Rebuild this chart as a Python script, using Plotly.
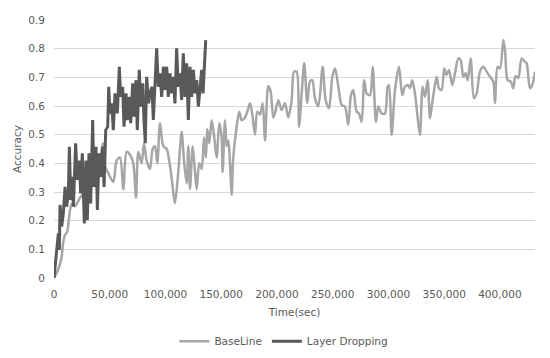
import plotly.graph_objects as go

# BaseLine series (time in sec, accuracy)
base_t = [0, 3600, 6900, 8100, 9900, 11700, 14400, 16100, 18800, 23300, 27800, 32300, 36800, 41300, 44000,
          45700, 48700, 53200, 56200, 59200, 62200, 65200, 68200, 71100, 73600, 75600, 78600, 80700, 83100,
          86100, 88500, 90600, 92700, 95100, 98100, 101100, 104100, 107000, 108500, 111500, 114500, 116600,
          119000, 120500, 122000, 124400, 126500, 128000, 130300, 132500, 134600, 136300, 137500, 139300,
          141400, 143500, 145900, 148300, 150400, 151300, 153400, 154900, 156400, 157900, 159400, 160800,
          163900, 166200, 168400, 171300, 173400, 175800, 177900, 180300, 182400, 184800, 187200, 189300,
          192200, 194400, 196700,
          198200, 201200, 204200, 207200, 210200, 213200, 215300, 217700, 219800, 222200, 224500, 227200,
          229600, 231700, 234100, 237100, 241000, 243700, 246700, 249700, 252100, 255100, 258100, 261000,
          264000, 266400, 268500, 271500, 273600, 276000, 278300, 280500, 283500, 285900, 288800, 290900,
          293900, 296900, 299300, 300500, 302900, 305900, 309500, 312400, 314800, 317800, 319300, 321400,
          323800, 326200, 328300, 330700, 332800, 335200, 337300, 339300, 343300, 345300, 347700, 350100,
          352200, 354300, 357300, 359700, 362700, 364800, 367200, 369300, 371100, 373800, 376700, 379200,
          382100, 385100, 388100, 391100, 394100, 395600, 398000, 400100, 403100, 404600, 407000, 409900,
          412000, 414100, 416500, 419500, 422500, 424000, 427000, 429100, 431500]
base_acc = [0.0, 0.028, 0.074, 0.12, 0.15, 0.16, 0.237, 0.26, 0.25, 0.28, 0.30, 0.33, 0.38, 0.42, 0.47,
            0.39, 0.366, 0.335, 0.41, 0.42, 0.31, 0.44, 0.43, 0.40, 0.28, 0.44, 0.40, 0.47, 0.41,
            0.38, 0.45, 0.46, 0.40, 0.54, 0.46, 0.45, 0.39, 0.30, 0.26, 0.37, 0.51, 0.41,
            0.33, 0.46, 0.31, 0.46, 0.37, 0.31, 0.40, 0.38, 0.49, 0.42, 0.52, 0.47,
            0.55, 0.50, 0.42, 0.54, 0.49, 0.37, 0.55, 0.46, 0.48, 0.40, 0.29, 0.42,
            0.53, 0.58, 0.55, 0.56, 0.58, 0.61, 0.57, 0.50, 0.58, 0.57, 0.61, 0.48,
            0.67, 0.65, 0.56,
            0.574, 0.62, 0.586, 0.61, 0.56, 0.62, 0.72, 0.72, 0.528, 0.644, 0.75, 0.61,
            0.685, 0.69, 0.627, 0.598, 0.737, 0.62, 0.592, 0.702, 0.731, 0.667, 0.603, 0.598,
            0.534, 0.638, 0.656, 0.58, 0.574, 0.545, 0.69, 0.644, 0.638, 0.737, 0.545, 0.598,
            0.574, 0.574, 0.667, 0.673, 0.499, 0.656, 0.737, 0.638, 0.667, 0.673, 0.662, 0.69,
            0.644, 0.56, 0.499, 0.667, 0.632, 0.69, 0.557, 0.61, 0.702, 0.662, 0.656, 0.731,
            0.708, 0.726, 0.673, 0.714, 0.766, 0.76, 0.702, 0.714, 0.69, 0.766, 0.627, 0.644,
            0.72, 0.737, 0.72, 0.702, 0.685, 0.61, 0.737, 0.731, 0.83, 0.795, 0.69, 0.685,
            0.662, 0.705, 0.697, 0.766, 0.754, 0.749, 0.662, 0.673, 0.72]

# Layer Dropping series
ld_t = [0, 2400, 3900, 4800, 5400, 6900, 8400, 9900, 11400, 12900, 13800, 15000, 16500, 17400, 19400,
        20900, 22700, 23900, 25400, 27200, 28700, 29900, 31400, 32900, 34700, 35900, 37700, 38900, 40400,
        41900, 43700, 44900, 46400, 48200, 49100, 50200, 51800, 53200, 54700, 56800, 58600, 59800, 61600,
        62800, 64600, 65800, 67600, 68800, 70600, 71800, 73600, 74700, 76500, 77800, 79600, 80700, 81900,
        83100, 84900, 86100, 87900, 89100, 90600, 92100, 93600, 95100, 96600, 98100, 99600, 101100, 102500,
        104100, 105600, 107000, 108500, 110000, 111500, 113000, 114500, 116000, 117500, 119000, 120500,
        122000, 123500, 125000, 126500, 128000, 129500, 131000, 132500, 133700, 134600, 136100]
ld_acc = [0.0, 0.086, 0.156, 0.098, 0.255, 0.179, 0.226, 0.318, 0.249, 0.301, 0.458, 0.272, 0.353, 0.249, 0.47,
          0.342, 0.41, 0.295, 0.435, 0.19, 0.41, 0.202, 0.435, 0.26, 0.551, 0.318, 0.458, 0.237, 0.435,
          0.353, 0.458, 0.318, 0.516, 0.528, 0.667, 0.574, 0.609, 0.516, 0.644, 0.574, 0.737, 0.632, 0.667,
          0.528, 0.644, 0.551, 0.632, 0.54, 0.679, 0.563, 0.69, 0.516, 0.726, 0.598, 0.679, 0.551, 0.47,
          0.702, 0.609, 0.644, 0.667, 0.551, 0.656, 0.801, 0.667, 0.714, 0.632, 0.737, 0.656, 0.737, 0.632,
          0.714, 0.644, 0.702, 0.609, 0.801, 0.667, 0.714, 0.621, 0.784, 0.632, 0.749, 0.551,
          0.737, 0.632, 0.726, 0.644, 0.69, 0.598, 0.667, 0.726, 0.644, 0.737, 0.83]

y_ticks = [0, 0.1, 0.2, 0.3, 0.4, 0.5, 0.6, 0.7, 0.8, 0.9]
y_labels = ["0", "0.1", "0.2", "0.3", "0.4", "0.5", "0.6", "0.7", "0.8", "0.9"]
x_ticks = [0, 50000, 100000, 150000, 200000, 250000, 300000, 350000, 400000]
x_labels = ["0", "50,000", "100,000", "150,000", "200,000", "250,000", "300,000", "350,000", "400,000"]

FONT = "DejaVu Sans"
TXT = "#595959"

fig = go.Figure()
fig.add_trace(go.Scatter(x=base_t, y=base_acc, mode="lines", name="BaseLine",
                         line=dict(color="#A6A6A6", width=2.5, shape="spline", smoothing=0.8)))
fig.add_trace(go.Scatter(x=ld_t, y=ld_acc, mode="lines", name="Layer Dropping",
                         line=dict(color="#595959", width=3)))

# page body adds an 8px offset, so the figure is 542x350
fig.update_layout(
    width=542, height=350,
    margin=dict(l=46, r=15, t=12, b=80, autoexpand=False),
    paper_bgcolor="white", plot_bgcolor="white",
    font=dict(family=FONT, size=10.5, color=TXT),
    showlegend=True,
    legend=dict(orientation="h", x=0.478, xanchor="center", y=-0.245, yanchor="middle",
                font=dict(family=FONT, size=10.5, color=TXT), itemwidth=30,
                traceorder="normal"),
    xaxis=dict(range=[0, 431500], tickvals=x_ticks, ticktext=x_labels, showgrid=False,
               zeroline=False, showline=False, ticks="", ticklabelstandoff=8, automargin=False,
               title=dict(text="Time(sec)", standoff=10, font=dict(size=10.5, color=TXT))),
    yaxis=dict(range=[0, 0.9], tickvals=y_ticks, ticktext=y_labels, showgrid=True,
               gridcolor="#D9D9D9", gridwidth=1, zeroline=False, showline=False, ticks="",
               ticklabelstandoff=8, automargin=False,
               title=dict(text="Accuracy", standoff=4, font=dict(size=10.5, color=TXT))),
)

fig.write_html("out.html")
